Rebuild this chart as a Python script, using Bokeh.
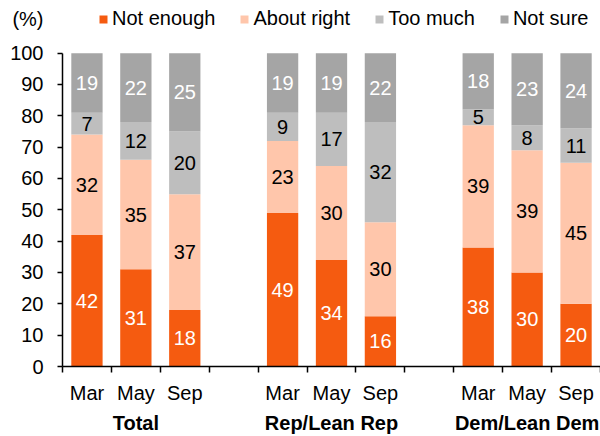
from bokeh.plotting import figure
from bokeh.models import (ColumnDataSource, FixedTicker, LinearAxis, Legend,
                          LegendItem)
from bokeh.core.properties import value
from bokeh.embed import file_html
from bokeh.resources import INLINE

# Survey shares (%) by group and month
groups = ["Total", "Rep/Lean Rep", "Dem/Lean Dem"]
months = ["Mar", "May", "Sep"]
not_enough = [42, 31, 18, 49, 34, 16, 38, 30, 20]
about_right = [32, 35, 37, 23, 30, 30, 39, 39, 45]
too_much = [7, 12, 20, 9, 17, 32, 5, 8, 11]
not_sure = [19, 22, 25, 19, 19, 22, 18, 23, 24]
series_names = ["Not enough", "About right", "Too much", "Not sure"]
y_ticks = list(range(0, 101, 10))
unit_label = "(%)"

FONT = "Liberation Sans"
FS = "20px"
colors = ["#F55B10", "#FFC6AB", "#BEBEBE", "#A5A5A5"]
label_colors = ["white", "black", "black", "white"]

# slot layout: three months per group, one empty slot between groups
x_pos = []
for g in range(len(groups)):
    for m in range(len(months)):
        x_pos.append(g * (len(months) + 1) + m + 0.5)
n_slots = len(groups) * (len(months) + 1) - 1

keys = ["ne", "ar", "tm", "ns"]
data = dict(x=x_pos, ne=not_enough, ar=about_right, tm=too_much, ns=not_sure)
src = ColumnDataSource(data)

# the frame reaches the top of the canvas; space above 100 holds the legend
p = figure(width=600, height=436, x_range=(0, n_slots), y_range=(0, 116.8),
           output_backend="svg", toolbar_location=None,
           min_border_left=62, min_border_right=0, min_border_top=0,
           min_border_bottom=60, x_axis_type=None, y_axis_type=None)
p.outline_line_color = None
p.xgrid.visible = False
p.ygrid.visible = False

renderers = p.vbar_stack(keys, x="x", width=0.64, color=colors,
                         line_color=None, source=src)

# value labels centred in each segment
series = [not_enough, about_right, too_much, not_sure]
base = [0] * len(x_pos)
for s, vals in enumerate(series):
    ys = [b + v / 2 for b, v in zip(base, vals)]
    base = [b + v for b, v in zip(base, vals)]
    p.text(x=x_pos, y=ys, text=[str(v) for v in vals],
           text_align="center", text_baseline="middle",
           text_font=value(FONT), text_font_size=FS,
           text_color=label_colors[s])

# y axis line and tick marks, limited to 0-100
yline = LinearAxis(ticker=FixedTicker(ticks=y_ticks), bounds=(0, 100),
                   major_label_overrides={t: "" for t in y_ticks})
yline.major_tick_out = 5
yline.major_tick_in = 0
yline.minor_tick_out = 0
yline.axis_line_width = 1.5
yline.major_tick_line_width = 1.5
yline.axis_line_color = "black"
yline.major_label_text_font_size = "1px"
yline.major_label_standoff = 0
p.add_layout(yline, "left")

# y tick labels plus the unit label at the top
unit_pos = 111
ylabels = LinearAxis(ticker=FixedTicker(ticks=y_ticks + [unit_pos]),
                     major_label_overrides={unit_pos: unit_label})
ylabels.axis_line_color = None
ylabels.major_tick_line_color = None
ylabels.minor_tick_line_color = None
ylabels.major_label_text_font = FONT
ylabels.major_label_text_font_size = FS
ylabels.major_label_text_color = "black"
ylabels.major_label_standoff = 8
p.add_layout(ylabels, "left")

# month axis: labels at bar centres, tick marks at slot boundaries
month_ax = LinearAxis(
    ticker=FixedTicker(ticks=x_pos, minor_ticks=list(range(0, n_slots + 1))),
    major_label_overrides={x: months[i % len(months)] for i, x in enumerate(x_pos)},
)
month_ax.major_tick_out = 0
month_ax.major_tick_in = 0
month_ax.minor_tick_out = 6
month_ax.minor_tick_in = 0
month_ax.minor_tick_line_width = 1.5
month_ax.axis_line_width = 1.5
month_ax.axis_line_color = "black"
month_ax.major_label_text_font = FONT
month_ax.major_label_text_font_size = FS
month_ax.major_label_text_color = "black"
month_ax.major_label_standoff = 9
p.add_layout(month_ax, "below")

# group axis: bold group names under each trio of bars
group_centres = [g * (len(months) + 1) + len(months) / 2 for g in range(len(groups))]
group_ax = LinearAxis(
    ticker=FixedTicker(ticks=group_centres),
    major_label_overrides={c: groups[i] for i, c in enumerate(group_centres)},
)
group_ax.axis_line_color = None
group_ax.major_tick_line_color = None
group_ax.minor_tick_line_color = None
group_ax.major_label_text_font = FONT
group_ax.major_label_text_font_size = FS
group_ax.major_label_text_font_style = "bold"
group_ax.major_label_text_color = "black"
group_ax.major_label_standoff = -1
p.add_layout(group_ax, "below")

legend = Legend(
    items=[LegendItem(label=series_names[i], renderers=[renderers[i]])
           for i in range(len(series_names))],
    orientation="horizontal", location=(36, 336),
    glyph_width=10, glyph_height=10, label_standoff=4, spacing=24,
    padding=0, margin=0, border_line_color=None, background_fill_alpha=0,
    label_text_font=FONT, label_text_font_size=FS, label_text_color="black",
)
p.add_layout(legend, "center")

open("out.html", "w").write(file_html(p, INLINE))
